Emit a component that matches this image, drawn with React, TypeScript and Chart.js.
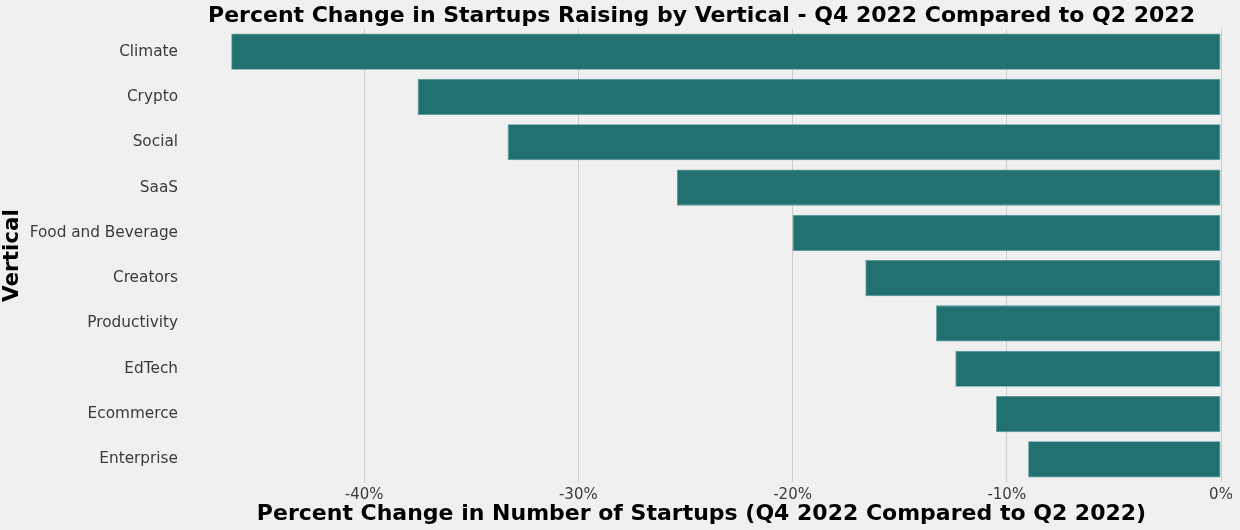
import React, { useEffect, useRef } from "react";
import { Chart, registerables } from "chart.js";

Chart.register(...registerables);

const categories = [
  "Climate",
  "Crypto",
  "Social",
  "SaaS",
  "Food and Beverage",
  "Creators",
  "Productivity",
  "EdTech",
  "Ecommerce",
  "Enterprise",
];
const percentChange = [-46.2, -37.5, -33.3, -25.4, -20.0, -16.6, -13.3, -12.4, -10.5, -9.0];
const xTickValues = [-40, -30, -20, -10, 0];
const chartTitle = "Percent Change in Startups Raising by Vertical - Q4 2022 Compared to Q2 2022";

const FONT = "'DejaVu Sans', sans-serif";

export default function App() {
  const ref = useRef<HTMLCanvasElement | null>(null);

  useEffect(() => {
    document.body.style.margin = "0";
    document.body.style.background = "#f0f0f0";
    const canvas = ref.current;
    if (!canvas) return;
    const bgPlugin = {
      id: "bg",
      beforeDraw(chart: any) {
        const ctx = chart.ctx;
        ctx.save();
        ctx.fillStyle = "#f0f0f0";
        ctx.fillRect(0, 0, chart.width, chart.height);
        ctx.restore();
      },
    };
    const titlePlugin = {
      id: "plotTitle",
      afterDraw(chart: any) {
        const ctx = chart.ctx;
        const area = chart.chartArea;
        ctx.save();
        ctx.fillStyle = "#000";
        ctx.font = `bold 22px ${FONT}`;
        ctx.textAlign = "center";
        ctx.textBaseline = "middle";
        ctx.fillText(chartTitle, (area.left + area.right) / 2, 16.5);
        ctx.restore();
      },
    };
    const chart = new Chart(canvas, {
      type: "bar",
      data: {
        labels: categories,
        datasets: [
          {
            data: percentChange,
            backgroundColor: "#217170",
            borderColor: "#4f9493",
            borderWidth: 0.8,
            borderSkipped: false,
            categoryPercentage: 1,
            barPercentage: 0.8,
          },
        ],
      },
      options: {
        indexAxis: "y",
        animation: false,
        responsive: false,
        maintainAspectRatio: false,
        layout: { padding: { left: 0, right: 19, top: 29, bottom: 0 } },
        plugins: {
          legend: { display: false },
          tooltip: { enabled: false },
          title: { display: false },
        },
        scales: {
          x: {
            type: "linear",
            min: -48.5,
            max: 0,
            afterBuildTicks(scale: any) {
              scale.ticks = xTickValues.map((v) => ({ value: v }));
            },
            afterFit(scale: any) {
              scale.height = 48;
            },
            grid: { color: "#cbcbcb", lineWidth: 1, drawTicks: false },
            border: { display: false },
            ticks: {
              color: "#3a3a3a",
              font: { family: FONT, size: 15 },
              padding: 4,
              callback: (v: any) => `${v}%`,
            },
            title: {
              display: true,
              text: "Percent Change in Number of Startups (Q4 2022 Compared to Q2 2022)",
              color: "#000",
              font: { family: FONT, size: 22, weight: "bold" },
              padding: { top: 0, bottom: 3 },
            },
          },
          y: {
            type: "category",
            afterFit(scale: any) {
              scale.width = 182;
            },
            grid: { display: false, drawTicks: false },
            border: { display: false },
            ticks: {
              color: "#3a3a3a",
              font: { family: FONT, size: 15.3 },
              padding: 4,
            },
            title: {
              display: true,
              text: "Vertical",
              color: "#000",
              font: { family: FONT, size: 21.5, weight: "bold" },
              padding: { top: 0, bottom: 0 },
            },
          },
        },
      },
      plugins: [bgPlugin, titlePlugin],
    } as any);
    return () => chart.destroy();
  }, []);

  return (
    <div style={{ width: 1240, height: 530, background: "#f0f0f0" }}>
      <canvas ref={ref} width={1240} height={530} style={{ display: "block" }} />
    </div>
  );
}
